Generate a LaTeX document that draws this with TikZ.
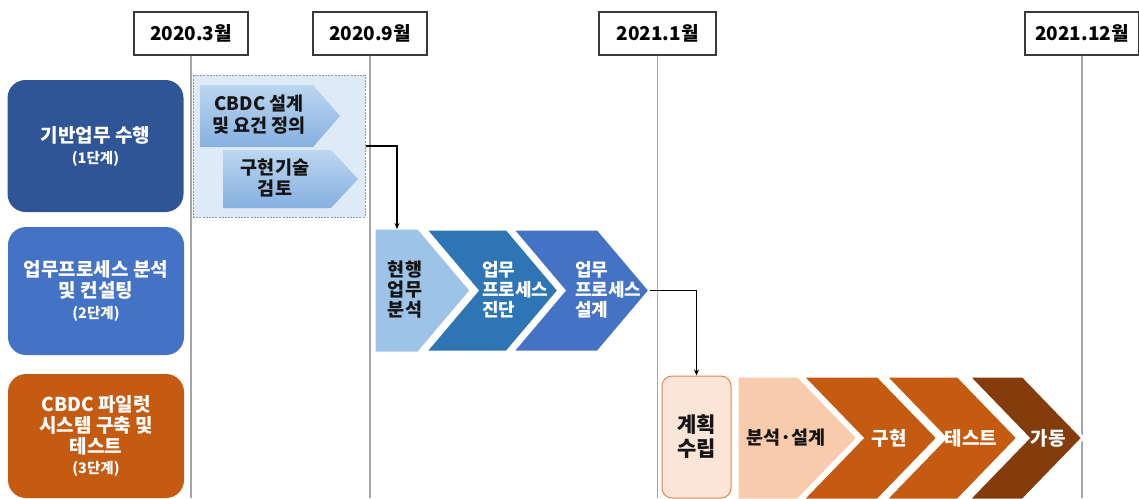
\documentclass[tikz,border=0pt]{standalone}
\usepackage{fontspec}
\setmainfont{Noto Sans CJK KR}
\usetikzlibrary{arrows.meta}
\definecolor{boxgray}{HTML}{3A3A3A}
\definecolor{linegray}{HTML}{A6A6A6}
\definecolor{stA}{HTML}{2F5597}
\definecolor{stB}{HTML}{4472C4}
\definecolor{stC}{HTML}{C55A11}
\definecolor{lblue}{HTML}{9DC3E6}
\definecolor{mblue}{HTML}{2E75B6}
\definecolor{contfill}{HTML}{DEEBF7}
\definecolor{contdraw}{HTML}{8E9AA8}
\definecolor{gradtop}{HTML}{BCD6F0}
\definecolor{gradbot}{HTML}{86B0DF}
\definecolor{planfill}{HTML}{FBE5D6}
\definecolor{plandraw}{HTML}{D9894F}
\definecolor{peach}{HTML}{F8CBAD}
\definecolor{dbrown}{HTML}{843C0C}
\definecolor{darktext}{HTML}{141414}
\begin{document}
\begin{tikzpicture}[x=1pt,y=-1pt,
  datebox/.style={draw=boxgray, line width=1.3pt, fill=white, minimum width=114pt,
    minimum height=43pt, inner sep=0pt, font=\fontsize{19}{22}\selectfont\bfseries},
  vline/.style={draw=linegray, line width=1.2pt},
  stagebox/.style={rounded corners=18pt, minimum width=176pt, inner sep=0pt,
    text=white, align=center, font=\fontsize{19}{21}\selectfont\bfseries},
  wtxt/.style={text=white, align=center, inner sep=0pt, font=\fontsize{19}{21}\selectfont\bfseries},
  btxt/.style={text=darktext, align=center, inner sep=0pt, font=\fontsize{18.5}{21.5}\selectfont\bfseries},
  ltxt/.style={text=white, align=left, inner sep=0pt, anchor=west, font=\fontsize{18}{20}\selectfont\bfseries},
  chev/.style={draw=white, line width=3pt, line join=miter},
  conn/.style={draw=black, line width=1.3pt, -{Stealth[length=6pt,width=5pt]}}
]
\useasboundingbox (0,0) rectangle (1139,498);

% date boxes
\node[datebox] (d1) at (191,33.5) {2020.3월};
\node[datebox] (d2) at (370,33.5) {2020.9월};
\node[datebox, minimum width=117pt] (d3) at (657.5,33.5) {2021.1월};
\node[datebox] (d4) at (1082,33.5) {2021.12월};

% vertical time lines
\draw[vline] (d1.south) -- (d1.south |- 0,498);
\draw[vline] (d2.south) -- (d2.south |- 0,498);
\draw[vline] (d3.south) -- (d3.south |- 0,498);
\draw[vline] (d4.south) -- (d4.south |- 0,498);

% stage boxes
\node[stagebox, fill=stA, minimum height=132pt] (s1) at (95.5,146)
  {기반업무 수행\\{\fontsize{14.5}{16}\selectfont (1단계)}};
\node[stagebox, fill=stB, minimum height=128pt] (s2) at (96,291)
  {업무프로세스 분석\\및 컨설팅\\{\fontsize{14.5}{16}\selectfont (2단계)}};
\node[stagebox, fill=stC, minimum height=124pt] (s3) at (96,436)
  {CBDC 파일럿\\시스템 구축 및\\테스트\\[-1pt]{\fontsize{14.5}{16}\selectfont (3단계)}};

% stage 1 container
\node[draw=contdraw, fill=contfill, line width=1pt, dash pattern=on 2pt off 1.2pt,
  minimum width=172pt, minimum height=142pt, inner sep=0pt] (cont) at (279,146) {};
\shade[top color=gradtop, bottom color=gradbot]
  (200,85) -- (313,85) -- (340,116) -- (313,147) -- (200,147) -- cycle;
\shade[top color=gradtop, bottom color=gradbot]
  (223,150) -- (331,150) -- (358,179) -- (331,208) -- (223,208) -- cycle;
\node[btxt] (p1) at (259,114.5) {CBDC 설계\\및 요건 정의};
\node[btxt] (p2) at (275,178) {구현기술\\검토};

% stage 2 chevrons
\path[fill=lblue, draw=white, line width=1pt]
  (375,229) -- (418,229) -- (470,290.5) -- (418,352) -- (375,352) -- cycle;
\path[chev, fill=mblue]
  (425,229) -- (507,229) -- (559,290.5) -- (507,352) -- (425,352) -- (477,290.5) -- cycle;
\path[chev, fill=stB]
  (512,229) -- (598,229) -- (650,290.5) -- (598,352) -- (512,352) -- (564,290.5) -- cycle;
\node[btxt, font=\fontsize{18.5}{20}\selectfont\bfseries] (cur) at (405,290) {현행\\업무\\분석};
\node[ltxt] (diag) at (482,290) {업무\\프로세스\\진단};
\node[ltxt] (desg) at (575,290) {업무\\프로세스\\설계};
\coordinate (curtop) at (397,229);
\coordinate (desgtip) at (650,290.5);

% stage 3
\node[draw=plandraw, fill=planfill, line width=1pt, rounded corners=10pt,
  minimum width=69pt, minimum height=122pt, inner sep=0pt,
  text=darktext, align=center, font=\fontsize{21}{24}\selectfont\bfseries] (plan) at (696.5,437) {계획\\수립};
\path[chev, fill=peach]
  (737,376) -- (798,376) -- (858,438) -- (798,500) -- (737,500) -- cycle;
\path[chev, fill=stC]
  (802,376) -- (878,376) -- (938,438) -- (878,500) -- (802,500) -- (862,438) -- cycle;
\path[chev, fill=stC]
  (885,376) -- (958,376) -- (1018,438) -- (958,500) -- (885,500) -- (945,438) -- cycle;
\path[chev, fill=dbrown]
  (968,376) -- (1023,376) -- (1083,438) -- (1023,500) -- (968,500) -- (1028,438) -- cycle;
\node[btxt] (anal) at (786,438) {분석·설계};
\node[wtxt] (impl) at (889,438) {구현};
\node[wtxt] (test) at (971,438) {테스트};
\node[wtxt] (oper) at (1048,438) {가동};

% connectors
\draw[conn] (cont.east) -| (curtop);
\draw[conn] (desgtip) -| (plan.north);
\end{tikzpicture}
\end{document}
